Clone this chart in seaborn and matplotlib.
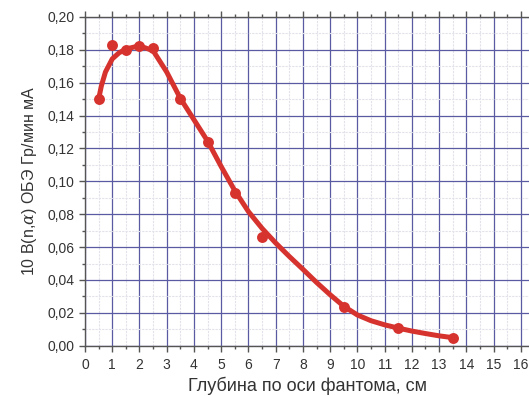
import matplotlib
matplotlib.use("Agg")
import matplotlib.pyplot as plt
import seaborn as sns
import pandas as pd
from matplotlib.ticker import MultipleLocator, FuncFormatter

# measured points
depth = [0.5, 1.0, 1.5, 2.0, 2.5, 3.5, 4.5, 5.5, 6.5, 9.5, 11.5, 13.5]
dose = [0.150, 0.183, 0.180, 0.1825, 0.181, 0.150, 0.124, 0.093, 0.066, 0.0234, 0.0106, 0.0049]

# fitted curve
curve_x = [0.5, 0.6, 0.75, 1.0, 1.25, 1.5, 2.0, 2.5, 3.0, 3.5, 4.0, 4.5, 5.0, 5.5, 6.0, 6.5,
           7.0, 7.5, 8.0, 8.5, 9.0, 9.5, 10.0, 10.5, 11.0, 11.5, 12.0, 12.5, 13.0, 13.5]
curve_y = [0.150, 0.158, 0.1665, 0.1745, 0.1782, 0.1805, 0.1825, 0.1795, 0.1665, 0.1505,
           0.1375, 0.1245, 0.109, 0.0943, 0.0816, 0.0714, 0.0625, 0.0543, 0.0465, 0.0385,
           0.031, 0.0240, 0.0187, 0.0152, 0.0127, 0.0107, 0.0089, 0.0074, 0.0060, 0.0049]

x_label = "Глубина по оси фантома, см"
y_label = r"10 B(n,$\alpha$) ОБЭ Гр/мин мА"

sns.set_theme(style="white")
plt.rcParams['font.family'] = ['Liberation Sans', 'DejaVu Sans']
plt.rcParams['mathtext.fontset'] = 'dejavuserif'

fig = plt.figure(figsize=(5.29, 3.96), dpi=100)
ax = fig.add_axes([85/529, 50.3/396, 1 - 85/529, 328.7/396])

red = "#d6332f"
pts = pd.DataFrame({"x": depth, "y": dose})
crv = pd.DataFrame({"x": curve_x, "y": curve_y})
sns.lineplot(data=crv, x="x", y="y", ax=ax, color=red, linewidth=3.6, sort=False,
             solid_joinstyle="round", solid_capstyle="round", zorder=3)
sns.scatterplot(data=pts, x="x", y="y", ax=ax, color=red, s=62, edgecolor=red,
                linewidth=0, zorder=4)

ax.set_xlim(0, 16.3)
ax.set_ylim(0, 0.20)
ax.xaxis.set_major_locator(MultipleLocator(1))
ax.xaxis.set_minor_locator(MultipleLocator(0.5))
ax.yaxis.set_major_locator(MultipleLocator(0.02))
ax.yaxis.set_minor_locator(MultipleLocator(0.01))
ax.yaxis.set_major_formatter(FuncFormatter(lambda v, p: f"{v:.2f}".replace(".", ",")))
ax.xaxis.set_major_formatter(FuncFormatter(lambda v, p: f"{int(round(v))}"))

ax.grid(which="major", color="#5a5aa2", linewidth=0.9, zorder=1)
ax.grid(which="minor", color="#e2e2ea", linewidth=0.8, linestyle=(0, (2, 1)), zorder=0)
ax.set_axisbelow(True)

for s in ["left", "bottom", "top"]:
    ax.spines[s].set_color("#555555")
    ax.spines[s].set_linewidth(1.0)
ax.spines["right"].set_visible(False)

ax.tick_params(which="major", direction="out", length=4, width=1, color="#555555",
               labelsize=10, labelcolor="#333333", top=True, bottom=True, left=True)
ax.tick_params(which="minor", direction="out", length=2.5, width=1, color="#555555",
               top=True, bottom=True, left=True)
ax.tick_params(axis="x", which="both", top=True, labeltop=False)
ax.tick_params(axis="x", which="major", pad=5)

ax.set_xlabel(x_label, fontsize=13, color="#333333", labelpad=3)
ax.set_ylabel(y_label, fontsize=11.5, color="#333333", labelpad=6)

fig.savefig("out.png", dpi=100)
